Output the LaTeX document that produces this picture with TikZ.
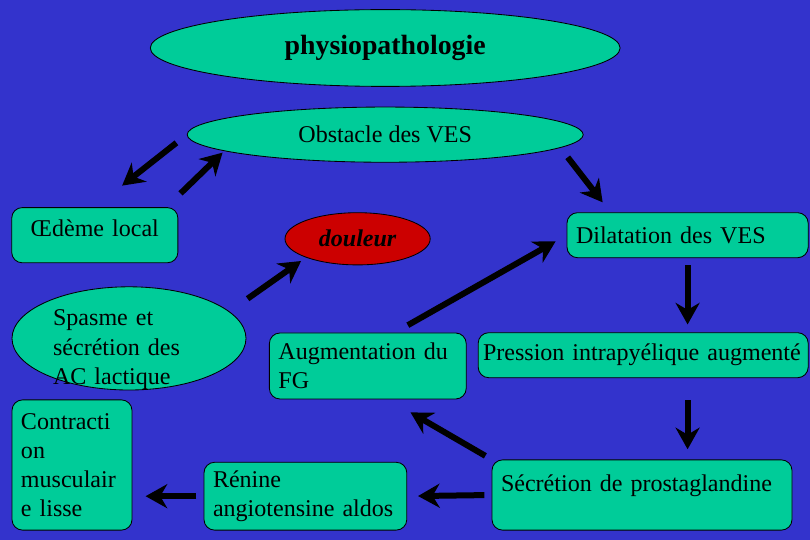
\documentclass[tikz,border=0pt]{standalone}
\usepackage{fontspec}
\setmainfont{Liberation Serif}
\usetikzlibrary{positioning,shapes.geometric,arrows.meta,calc}

\definecolor{fond}{RGB}{51,51,204}
\definecolor{menthe}{RGB}{0,204,153}
\definecolor{rouge}{RGB}{204,0,0}
\hyphenpenalty=10000

\begin{document}
\begin{tikzpicture}[
  every node/.style={font=\fontsize{11.4}{13.8}\selectfont},
  ovale/.style={ellipse, draw, fill=menthe, inner sep=0pt},
  boite/.style={rectangle, rounded corners=5pt, draw, fill=menthe,
                align=left, inner xsep=0.15cm, inner ysep=0pt},
  arr/.style={-{Stealth[length=0.36cm, width=0.4cm]}, line width=0.1cm}
]

\fill[fond] (0,0) rectangle (13.5,9);
\useasboundingbox (0,0) rectangle (13.5,9);

\node[ovale, minimum width=7.83cm, minimum height=1.28cm,
      font=\fontsize{13.2}{16}\selectfont\bfseries]      (physio) at (6.42,8.2) {physiopathologie};
\node[ovale, minimum width=6.6cm, minimum height=0.92cm,
      below=0.33cm of physio]                           (obst)   {Obstacle des VES};
\node[ovale, fill=rouge, minimum width=2.42cm, minimum height=0.87cm,
      font=\fontsize{11.4}{13.8}\selectfont\bfseries\itshape] (doul) at (5.96,5.02) {douleur};
\node[ovale, minimum width=3.9cm, minimum height=1.72cm,
      text width=2.53cm, inner xsep=-0.12cm, inner ysep=-0.3cm] (spasme) at (2.15,3.36)
      {\rule{0pt}{0.64cm}Spasme et\\sécrétion des\\AC lactique};

\node[boite, align=center, text width=2.47cm, minimum height=0.92cm,
      text depth=0.22cm]                                (oed)    at (1.58,5.08) {Œdème local};
\node[boite, text width=3.72cm, minimum height=0.75cm]  (dilat)  at (11.46,5.08) {Dilatation des VES};
\node[boite, text width=2.98cm, minimum height=1.1cm]   (augm)   at (6.13,2.9) {Augmentation du\\FG};
\node[boite, inner xsep=0.08cm, text width=5.34cm,
      minimum height=0.75cm]                            (press)  at (10.72,3.08) {Pression intrapyélique augmenté};
\node[boite, text width=1.7cm, minimum height=2.17cm]   (contr)  at (1.2,1.25) {Contracti\\on\\musculair\\e lisse};
\node[boite, text width=3.08cm, minimum height=1.13cm]  (renine) at (5.09,0.73) {Rénine\\angiotensine aldos};
\node[boite, text width=4.7cm, minimum height=1.17cm,
      text depth=0.39cm]                                (secr)   at (10.7,0.75) {Sécrétion de prostaglandine};

% les fleches ne touchent pas les formes
\draw[arr, shorten <=0.22cm, shorten >=0.58cm] (obst.west) -- (oed.north);
\draw[arr, shorten <=0.33cm, shorten >=0.1cm]
  ($(oed.north east)+(-0.2,0)$) -- ($(obst.south west)+(-0.3,0.1)$);
\draw[arr, shorten <=0.25cm, shorten >=0.21cm]
  ($(obst.south east)+(0.55,0.15)$) -- ($(dilat.north west)+(0.73,0)$);
\draw[arr, shorten <=0.37cm, shorten >=0.1cm] (spasme.15) -- (doul.south west);
\draw[arr, shorten <=0.25cm, shorten >=0.21cm] ($(augm.north)+(0.45,0)$) -- (dilat.west);
\draw[arr, shorten <=0.12cm, shorten >=0.13cm] (dilat.south) -- (dilat.south |- press.north);
\draw[arr, shorten <=0.37cm, shorten >=0.17cm] (dilat.south |- press.south) -- (dilat.south |- secr.north);
\draw[arr, shorten <=0.12cm, shorten >=0.43cm] (secr.north west) -- ($(augm.south)+(0.34,0)$);
\draw[arr, shorten <=0.12cm, shorten >=0.18cm] (secr.west) -- (renine.east);
\draw[arr, shorten <=0.12cm, shorten >=0.22cm] (renine.west) -- (renine.west -| contr.east);

\end{tikzpicture}
\end{document}
